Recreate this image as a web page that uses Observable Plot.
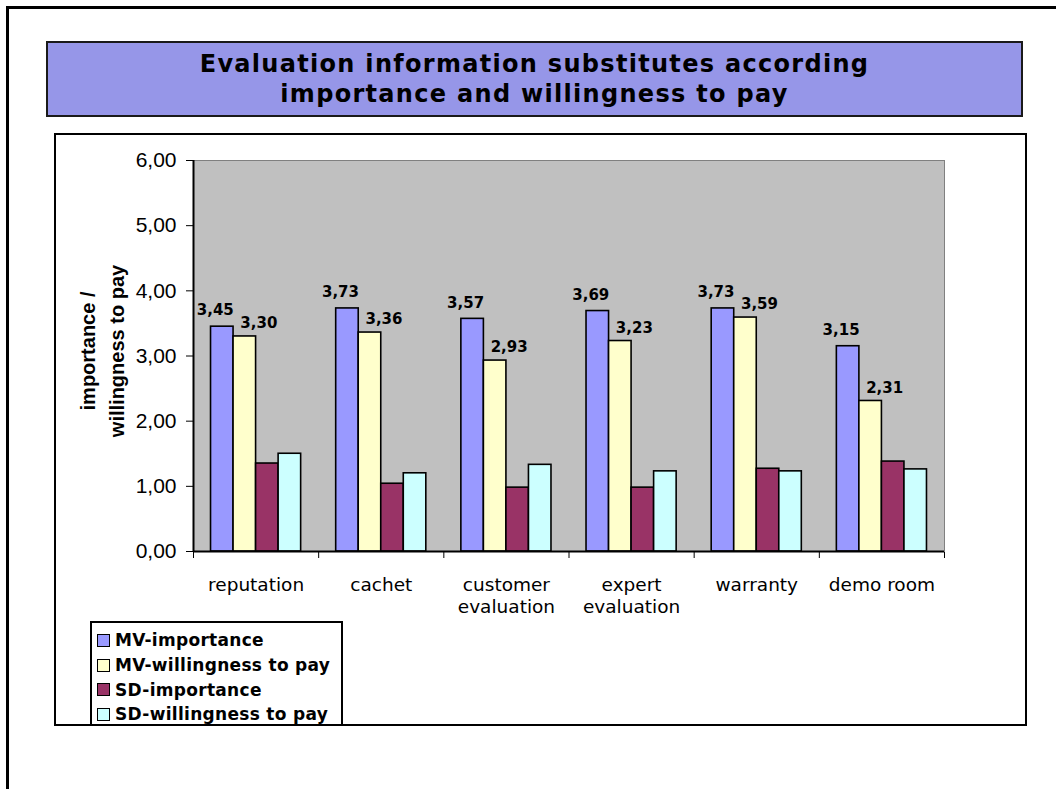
<!DOCTYPE html>
<html>
<head>
<meta charset="utf-8">
<script src="https://cdn.jsdelivr.net/npm/d3@7"></script>
<script src="https://cdn.jsdelivr.net/npm/@observablehq/plot@0.6"></script>
<style>
html,body{margin:0;padding:0;width:1056px;height:789px;overflow:hidden;background:#fff;}
#page{position:relative;width:1056px;height:789px;overflow:hidden;background:#fff;}
.abs{position:absolute;box-sizing:border-box;}
#outer{left:6px;top:6px;width:1200px;height:1000px;border:3px solid #000;}
#title{left:46px;top:41px;width:977px;height:76px;border:2px solid #1a1a1a;background:#9696e8;display:flex;align-items:center;justify-content:center;text-align:center;font-family:"DejaVu Sans";font-weight:bold;font-size:24px;letter-spacing:1.3px;line-height:30px;color:#000;}
#box{left:54px;top:133px;width:973px;height:593px;border:2px solid #000;background:#fff;}
#legend{left:90px;top:621px;width:253px;height:103px;border:2px solid #000;border-bottom:none;background:#fff;overflow:hidden;padding:5px 0 0 5px;font-family:"DejaVu Sans";font-weight:bold;font-size:17px;letter-spacing:0.3px;color:#000;}
.row{height:24.7px;display:flex;align-items:center;white-space:nowrap;}
.sw{width:13px;height:13px;box-sizing:border-box;border:1.5px solid #000;margin-right:5px;flex:none;}
</style>
</head>
<body>
<div id="page">
  <div id="outer" class="abs"></div>
  <div id="title" class="abs"></div>
  <div id="box" class="abs"></div>
</div>
<script>
// ---- data ----
const titleLines = ["Evaluation information substitutes according", "importance and willingness to pay"];
const yLabel = "importance /\nwillingness to pay";
const categories = ["reputation", "cachet", "customer evaluation", "expert evaluation", "warranty", "demo room"];
const categoryLabels = ["reputation", "cachet", "customer\nevaluation", "expert\nevaluation", "warranty", "demo room"];
const series = ["MV-importance", "MV-willingness to pay", "SD-importance", "SD-willingness to pay"];
const mvImportance = [3.45, 3.73, 3.57, 3.69, 3.73, 3.15];
const mvWillingness = [3.30, 3.36, 2.93, 3.23, 3.59, 2.31];
const sdImportance = [1.35, 1.04, 0.98, 0.98, 1.27, 1.38];
const sdWillingness = [1.50, 1.20, 1.33, 1.23, 1.23, 1.26];
const colors = ["#9999ff", "#ffffcc", "#993366", "#ccffff"];
const yDomain = [0, 6];

// ---- layout constants ----
const GAP = 0.28;              // share of a category band left between groups
const BAR = (1 - GAP) / series.length;
const fmt = v => v.toFixed(2).replace(".", ",");

const seriesValues = [mvImportance, mvWillingness, sdImportance, sdWillingness];
const bars = categories.flatMap((c, ci) => seriesValues.map((vals, si) => ({
  category: c,
  series: series[si],
  si,
  value: vals[ci],
  x1: ci + GAP / 2 + si * BAR,
  x2: ci + GAP / 2 + (si + 1) * BAR
})));

document.getElementById("title").innerHTML = titleLines.join("<br>");

const labelFont = {fontFamily: "DejaVu Sans", fontWeight: "bold", fontSize: 15, textAnchor: "middle", lineAnchor: "middle"};

const chart = Plot.plot({
  width: 1056,
  height: 789,
  marginLeft: 193,
  marginRight: 112,
  marginTop: 160,
  marginBottom: 238,
  style: {background: "transparent", fontFamily: "Liberation Sans, Arial, sans-serif", fontSize: "21px", color: "#000", overflow: "visible"},
  x: {domain: [0, categories.length], ticks: categories.length, tickSize: 7, tickFormat: () => "", label: null},
  y: {domain: yDomain, ticks: 6, tickSize: 7, tickPadding: 10, tickFormat: fmt, label: null},
  color: {domain: series, range: colors},
  marks: [
    Plot.frame({fill: "#c0c0c0", stroke: "#808080"}),
    Plot.rect(bars, {x1: "x1", x2: "x2", y1: 0, y2: "value", fill: "series", stroke: "#000", strokeWidth: 1.6}),
    Plot.ruleX([0], {stroke: "#000", strokeWidth: 2}),
    Plot.ruleY([0], {stroke: "#000", strokeWidth: 2}),
    Plot.text(bars.filter(d => d.si === 0), {x: d => (d.x1 + d.x2) / 2, y: "value", text: d => fmt(d.value), dx: -7, dy: -16, ...labelFont}),
    Plot.text(bars.filter(d => d.si === 1), {x: d => (d.x1 + d.x2) / 2, y: "value", text: d => fmt(d.value), dx: 14, dy: -13, ...labelFont}),
    Plot.text(categoryLabels, {x: (d, i) => i + 0.5, frameAnchor: "bottom", text: d => d, lineAnchor: "top", dy: 24, fontSize: 18.5, fontFamily: "DejaVu Sans", lineHeight: 1.19}),
    Plot.text([yLabel], {frameAnchor: "left", text: d => d, rotate: -90, textAnchor: "middle", lineAnchor: "middle", dx: -93, dy: -5, fontFamily: "Liberation Sans, Arial", fontWeight: "bold", fontSize: 20, lineHeight: 1.45})
  ]
});
chart.style.position = "absolute";
chart.style.left = "0px";
chart.style.top = "0px";
document.getElementById("page").appendChild(chart);

// legend
const legend = d3.select("#page").append("div").attr("id", "legend").attr("class", "abs");
const rows = legend.selectAll("div.row").data(series).join("div").attr("class", "row");
rows.append("div").attr("class", "sw").style("background", (d, i) => colors[i]);
rows.append("span").text(d => d);
</script>
</body>
</html>
